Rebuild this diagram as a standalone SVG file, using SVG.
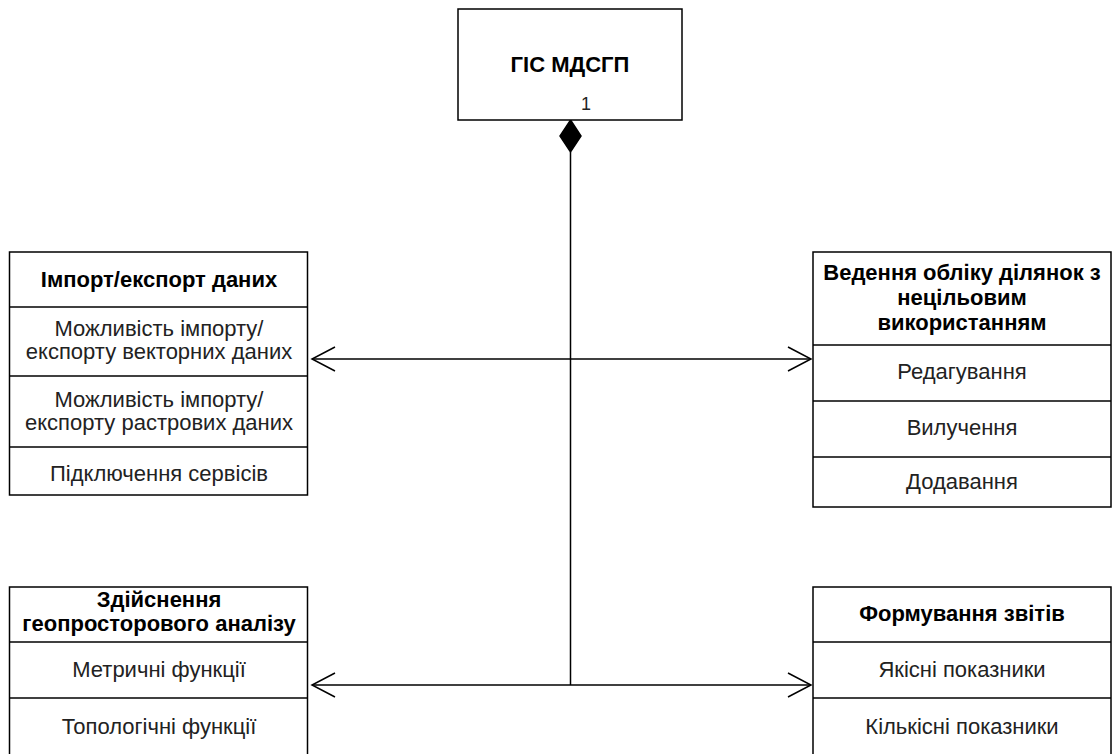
<svg xmlns="http://www.w3.org/2000/svg" width="1115" height="754" viewBox="0 0 1115 754">
<style>
.box{fill:#fff;stroke:#000;stroke-width:1.5}
.sep{stroke:#000;stroke-width:1.5}
.h{font-family:"Liberation Sans",Arial,sans-serif;font-size:22px;font-weight:bold;fill:#000;text-anchor:middle}
.t{font-family:"Liberation Sans",Arial,sans-serif;font-size:22px;fill:#222;text-anchor:middle}
.edge{fill:none;stroke:#000;stroke-width:1.5}
</style>
<rect width="1115" height="754" fill="#fff"/>
<g id="connectors">
<path class="edge" d="M570.5 152 V685"/>
<path class="edge" d="M312 359 H811"/>
<path class="edge" d="M312 685 H811"/>
<path class="edge" d="M335 347 L312 359 L335 371"/>
<path class="edge" d="M788 347 L811 359 L788 371"/>
<path class="edge" d="M335 673 L312 685 L335 697"/>
<path class="edge" d="M788 673 L811 685 L788 697"/>
<path d="M570.5 120 L581 136 L570.5 152 L560 136 Z" fill="#000" stroke="#000" stroke-width="1.5"/>
</g>
<g id="gis">
<rect class="box" x="458" y="9" width="224" height="111"/>
<text class="h" x="570" y="72">ГІС МДСГП</text>
<text class="t" x="586" y="110" style="font-size:18px">1</text>
</g>
<g id="import">
<rect class="box" x="9.5" y="252" width="298" height="243"/>
<line class="sep" x1="9.5" y1="307" x2="307.5" y2="307"/>
<line class="sep" x1="9.5" y1="376" x2="307.5" y2="376"/>
<line class="sep" x1="9.5" y1="447" x2="307.5" y2="447"/>
<text class="h" x="159" y="287">Імпорт/експорт даних</text>
<text class="t" x="159" y="336">Можливість імпорту/</text>
<text class="t" x="159" y="359">експорту векторних даних</text>
<text class="t" x="159" y="407">Можливість імпорту/</text>
<text class="t" x="159" y="430">експорту растрових даних</text>
<text class="t" x="159" y="481">Підключення сервісів</text>
</g>
<g id="records">
<rect class="box" x="813" y="252" width="298" height="255"/>
<line class="sep" x1="813" y1="345" x2="1111" y2="345"/>
<line class="sep" x1="813" y1="401" x2="1111" y2="401"/>
<line class="sep" x1="813" y1="457" x2="1111" y2="457"/>
<text class="h" x="962" y="280">Ведення обліку ділянок з</text>
<text class="h" x="962" y="305">нецільовим</text>
<text class="h" x="962" y="330">використанням</text>
<text class="t" x="962" y="379">Редагування</text>
<text class="t" x="962" y="435">Вилучення</text>
<text class="t" x="962" y="489">Додавання</text>
</g>
<g id="analysis">
<rect class="box" x="9.5" y="587" width="298" height="180"/>
<line class="sep" x1="9.5" y1="642" x2="307.5" y2="642"/>
<line class="sep" x1="9.5" y1="698" x2="307.5" y2="698"/>
<text class="h" x="159" y="607">Здійснення</text>
<text class="h" x="159" y="631">геопросторового аналізу</text>
<text class="t" x="159" y="677">Метричні функції</text>
<text class="t" x="159" y="734">Топологічні функції</text>
</g>
<g id="reports">
<rect class="box" x="813" y="587" width="298" height="180"/>
<line class="sep" x1="813" y1="642" x2="1111" y2="642"/>
<line class="sep" x1="813" y1="698" x2="1111" y2="698"/>
<text class="h" x="962" y="621">Формування звітів</text>
<text class="t" x="962" y="677">Якісні показники</text>
<text class="t" x="962" y="734">Кількісні показники</text>
</g>
</svg>
